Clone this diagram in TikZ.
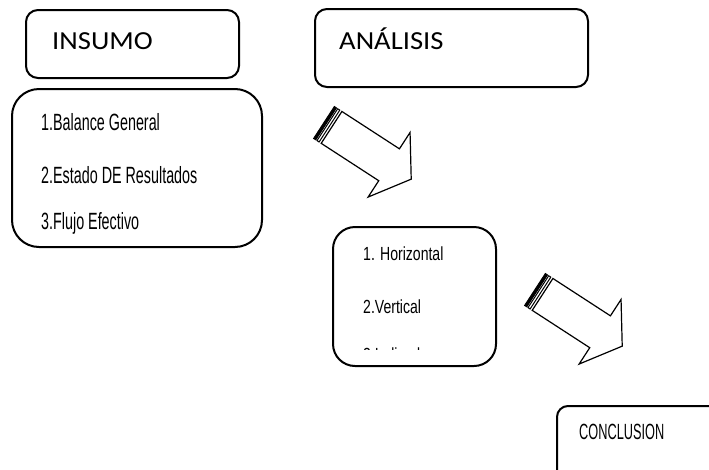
\documentclass[tikz,border=0pt]{standalone}
\usepackage{fontspec}
\setmainfont{Carlito}
\newfontfamily\headfont[FakeStretch=1.1]{Carlito}
\newfontfamily\itemfontA[FakeStretch=0.61]{Liberation Sans}
\newfontfamily\itemfontB[FakeStretch=0.74]{Liberation Sans}
\newfontfamily\itemfontC[FakeStretch=0.58]{Liberation Sans}
\begin{document}
\begin{tikzpicture}[x=1pt,y=-1pt,
  box/.style={draw=black,line width=2pt},
  headtext/.style={anchor=base west,inner sep=0pt,font=\headfont\fontsize{26}{26}\selectfont},
  itemA/.style={anchor=base west,inner sep=0pt,font=\itemfontA\fontsize{23.5}{23.5}\selectfont},
  itemB/.style={anchor=base west,inner sep=0pt,font=\itemfontB\fontsize{19}{19}\selectfont},
  itemC/.style={anchor=base west,inner sep=0pt,font=\itemfontC\fontsize{22}{22}\selectfont},
  blockarrow/.style={draw=black,line width=1.2pt,fill=white,line join=miter},
  stripedarrow/.pic={
    \fill[black] (0,-19) rectangle (2.5,19);
    \draw[line width=1pt] (0,-19) rectangle (2.5,19);
    \draw[line width=1pt,fill=white] (4,-19) rectangle (6.5,19);
    \draw[blockarrow] (9,-19) -- (77.6,-19) -- (77.6,-38.5) -- (104,0)
      -- (77.6,38.5) -- (77.6,19) -- (9,19) -- cycle;
  }
]
\useasboundingbox (0,0) rectangle (709,469);
\clip (0,0) rectangle (709,469);
\fill[white] (0,0) rectangle (709,469);

% header boxes
\draw[box,rounded corners=12pt] (26,10) rectangle (239,78);
\draw[box,rounded corners=12pt] (315,9) rectangle (588,87);
\node[headtext] (insumo) at (52,49) {INSUMO};
\node[headtext] (analisis) at (339,49) {ANÁLISIS};

% inputs list
\draw[box,rounded corners=27pt] (12,89) rectangle (262,247);
\node[itemA] (in1) at (41,130) {1.Balance General};
\node[itemA] (in2) at (41,183.5) {2.Estado DE Resultados};
\node[itemA] (in3) at (41,229) {3.Flujo Efectivo};

% analysis list
\draw[box,rounded corners=22pt] (333,227) rectangle (496,366);
\node[itemB] (an1) at (363,260) {1. Horizontal};
\node[itemB] (an2) at (363,313) {2.Vertical};
\begin{scope}
  \clip (335,340) rectangle (494,349.6);
  \node[itemB] (an3) at (363,361) {3.Indicadores};
\end{scope}

% conclusion box, running off the page edge
\draw[box,rounded corners=11pt] (557,406) rectangle (740,480);
\node[itemC] (concl) at (579,439) {CONCLUSION};

% striped block arrows
\pic[rotate=-33] (arrowA) at (324,122.5) {stripedarrow};
\pic[rotate=-33] (arrowB) at (535,289.5) {stripedarrow};
\end{tikzpicture}
\end{document}
